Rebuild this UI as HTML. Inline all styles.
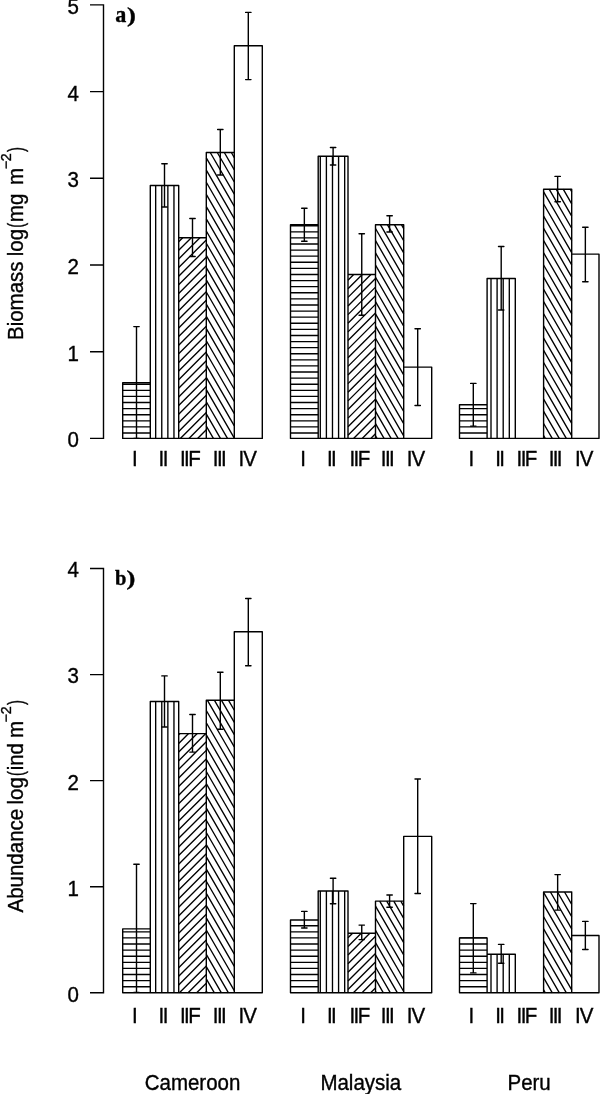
<!DOCTYPE html><html><head><meta charset="utf-8"><style>
html,body{margin:0;padding:0;background:#fff;width:600px;height:1094px;overflow:hidden}
svg{display:block;will-change:transform;filter:blur(0.3px)}
text{font-family:"Liberation Sans",sans-serif;fill:#000;stroke:#000;stroke-width:0.35px}
.lab{font-family:"Liberation Serif",serif;font-weight:bold}
</style></head><body>
<svg width="600" height="1094" viewBox="0 0 600 1094">
<rect width="600" height="1094" fill="#fff"/>
<path d="M103.5 4.2V439.1M90 438.4H103.5M90 351.7H103.5M90 265H103.5M90 178.3H103.5M90 91.6H103.5M90 4.9H103.5" stroke="#000" stroke-width="1.4" fill="none"/>
<g opacity="0.999">
<text transform="translate(79.0 447.3) scale(1 1.04)" font-size="20.5" text-anchor="end">0</text>
<text transform="translate(79.0 360.6) scale(1 1.04)" font-size="20.5" text-anchor="end">1</text>
<text transform="translate(79.0 273.9) scale(1 1.04)" font-size="20.5" text-anchor="end">2</text>
<text transform="translate(79.0 187.2) scale(1 1.04)" font-size="20.5" text-anchor="end">3</text>
<text transform="translate(79.0 100.5) scale(1 1.04)" font-size="20.5" text-anchor="end">4</text>
<text transform="translate(79.0 14.4) scale(1 1.04)" font-size="20.5" text-anchor="end">5</text>
</g>
<path d="M122.7 433L150.3 433M122.7 426.91L150.3 426.91M122.7 420.81L150.3 420.81M122.7 414.71L150.3 414.71M122.7 408.62L150.3 408.62M122.7 402.52L150.3 402.52M122.7 396.42L150.3 396.42M122.7 390.32L150.3 390.32M122.7 384.23L150.3 384.23M155.67 185.5L155.67 438.4M161.77 185.5L161.77 438.4M167.86 185.5L167.86 438.4M173.96 185.5L173.96 438.4M178.7 241.71L182.71 237.7M178.7 250.33L191.33 237.7M178.7 258.95L199.95 237.7M178.7 267.58L206.3 239.98M178.7 276.2L206.3 248.6M178.7 284.82L206.3 257.22M178.7 293.44L206.3 265.84M178.7 302.07L206.3 274.47M178.7 310.69L206.3 283.09M178.7 319.31L206.3 291.71M178.7 327.93L206.3 300.33M178.7 336.56L206.3 308.96M178.7 345.18L206.3 317.58M178.7 353.8L206.3 326.2M178.7 362.42L206.3 334.82M178.7 371.04L206.3 343.44M178.7 379.67L206.3 352.07M178.7 388.29L206.3 360.69M178.7 396.91L206.3 369.31M178.7 405.53L206.3 377.93M178.7 414.16L206.3 386.56M178.7 422.78L206.3 395.18M178.7 431.4L206.3 403.8M180.32 438.4L206.3 412.42M188.95 438.4L206.3 421.05M197.57 438.4L206.3 429.67M206.19 438.4L206.3 438.29M206.34 438.4L206.3 438.33M213.38 438.4L206.3 426.14M220.42 438.4L206.3 413.94M227.46 438.4L206.3 401.75M234.3 438.05L206.3 389.56M234.3 425.86L206.3 377.36M234.3 413.67L206.3 365.17M234.3 401.47L206.3 352.97M234.3 389.28L206.3 340.78M234.3 377.08L206.3 328.59M234.3 364.89L206.3 316.39M234.3 352.7L206.3 304.2M234.3 340.5L206.3 292M234.3 328.31L206.3 279.81M234.3 316.11L206.3 267.62M234.3 303.92L206.3 255.42M234.3 291.73L206.3 243.23M234.3 279.53L206.3 231.03M234.3 267.34L206.3 218.84M234.3 255.14L206.3 206.65M234.3 242.95L206.3 194.45M234.3 230.76L206.3 182.26M234.3 218.56L206.3 170.06M234.3 206.37L206.3 157.87M234.3 194.17L210.24 152.5M234.3 181.98L217.28 152.5M234.3 169.79L224.32 152.5M234.3 157.59L231.36 152.5M290.5 433L318.2 433M290.5 426.91L318.2 426.91M290.5 420.81L318.2 420.81M290.5 414.71L318.2 414.71M290.5 408.62L318.2 408.62M290.5 402.52L318.2 402.52M290.5 396.42L318.2 396.42M290.5 390.32L318.2 390.32M290.5 384.23L318.2 384.23M290.5 378.13L318.2 378.13M290.5 372.03L318.2 372.03M290.5 365.94L318.2 365.94M290.5 359.84L318.2 359.84M290.5 353.74L318.2 353.74M290.5 347.64L318.2 347.64M290.5 341.55L318.2 341.55M290.5 335.45L318.2 335.45M290.5 329.35L318.2 329.35M290.5 323.26L318.2 323.26M290.5 317.16L318.2 317.16M290.5 311.06L318.2 311.06M290.5 304.97L318.2 304.97M290.5 298.87L318.2 298.87M290.5 292.77L318.2 292.77M290.5 286.68L318.2 286.68M290.5 280.58L318.2 280.58M290.5 274.48L318.2 274.48M290.5 268.38L318.2 268.38M290.5 262.29L318.2 262.29M290.5 256.19L318.2 256.19M290.5 250.09L318.2 250.09M290.5 244L318.2 244M290.5 237.9L318.2 237.9M290.5 231.8L318.2 231.8M290.5 225.71L318.2 225.71M320.29 156.2L320.29 438.4M326.39 156.2L326.39 438.4M332.48 156.2L332.48 438.4M338.58 156.2L338.58 438.4M344.68 156.2L344.68 438.4M348 280.15L353.65 274.5M348 288.77L362.27 274.5M348 297.39L370.89 274.5M348 306.01L375.5 278.51M348 314.64L375.5 287.14M348 323.26L375.5 295.76M348 331.88L375.5 304.38M348 340.5L375.5 313M348 349.13L375.5 321.63M348 357.75L375.5 330.25M348 366.37L375.5 338.87M348 374.99L375.5 347.49M348 383.62L375.5 356.12M348 392.24L375.5 364.74M348 400.86L375.5 373.36M348 409.48L375.5 381.98M348 418.11L375.5 390.61M348 426.73L375.5 399.23M348 435.35L375.5 407.85M353.57 438.4L375.5 416.47M362.2 438.4L375.5 425.1M370.82 438.4L375.5 433.72M377 438.4L375.5 435.79M384.04 438.4L375.5 423.6M391.08 438.4L375.5 411.41M398.12 438.4L375.5 399.21M403.7 435.86L375.5 387.02M403.7 423.67L375.5 374.82M403.7 411.47L375.5 362.63M403.7 399.28L375.5 350.44M403.7 387.09L375.5 338.24M403.7 374.89L375.5 326.05M403.7 362.7L375.5 313.85M403.7 350.5L375.5 301.66M403.7 338.31L375.5 289.47M403.7 326.12L375.5 277.27M403.7 313.92L375.5 265.08M403.7 301.73L375.5 252.88M403.7 289.53L375.5 240.69M403.7 277.34L375.5 228.5M403.7 265.15L380.35 224.7M403.7 252.95L387.39 224.7M403.7 240.76L394.43 224.7M403.7 228.56L401.47 224.7M459.5 433L487.1 433M459.5 426.91L487.1 426.91M459.5 420.81L487.1 420.81M459.5 414.71L487.1 414.71M459.5 408.62L487.1 408.62M491 278.5L491 438.4M497.1 278.5L497.1 438.4M503.2 278.5L503.2 438.4M509.3 278.5L509.3 438.4M545.17 438.4L543.6 435.68M552.21 438.4L543.6 423.49M559.25 438.4L543.6 411.29M566.29 438.4L543.6 399.1M571.7 435.58L543.6 386.91M571.7 423.38L543.6 374.71M571.7 411.19L543.6 362.52M571.7 398.99L543.6 350.32M571.7 386.8L543.6 338.13M571.7 374.61L543.6 325.94M571.7 362.41L543.6 313.74M571.7 350.22L543.6 301.55M571.7 338.02L543.6 289.35M571.7 325.83L543.6 277.16M571.7 313.64L543.6 264.97M571.7 301.44L543.6 252.77M571.7 289.25L543.6 240.58M571.7 277.05L543.6 228.38M571.7 264.86L543.6 216.19M571.7 252.67L543.6 204M571.7 240.47L543.6 191.8M571.7 228.28L549.14 189.2M571.7 216.08L556.18 189.2M571.7 203.89L563.22 189.2M571.7 191.7L570.26 189.2" stroke="#000" stroke-width="1.35" fill="none"/>
<path d="M122.7 438.4V382.7H150.3V438.4ZM150.3 438.4V185.5H178.7V438.4ZM178.7 438.4V237.7H206.3V438.4ZM206.3 438.4V152.5H234.3V438.4ZM234.3 438.4V45.7H262.3V438.4ZM290.5 438.4V224.8H318.2V438.4ZM318.2 438.4V156.2H348V438.4ZM348 438.4V274.5H375.5V438.4ZM375.5 438.4V224.7H403.7V438.4ZM403.7 438.4V367.1H431.7V438.4ZM459.5 438.4V404.7H487.1V438.4ZM487.1 438.4V278.5H515.3V438.4ZM515.3 438.4H543.6M543.6 438.4V189.2H571.7V438.4ZM571.7 438.4V254.1H599V438.4Z" stroke="#000" stroke-width="1.4" fill="none" stroke-linejoin="round" stroke-linecap="round"/>
<path d="M136.5 326.6V438.4M133.8 326.6H139.2M133.8 438.4H139.2M164.5 163.7V207M161.8 163.7H167.2M161.8 207H167.2M192.5 218.5V256.5M189.8 218.5H195.2M189.8 256.5H195.2M220.3 129.5V175M217.6 129.5H223M217.6 175H223M248.3 12.4V79.6M245.6 12.4H251M245.6 79.6H251M304.35 208.3V241.2M301.65 208.3H307.05M301.65 241.2H307.05M333.1 147.5V165M330.4 147.5H335.8M330.4 165H335.8M361.75 233.7V315.3M359.05 233.7H364.45M359.05 315.3H364.45M389.6 215.7V232M386.9 215.7H392.3M386.9 232H392.3M417.7 328.8V405.5M415 328.8H420.4M415 405.5H420.4M473.3 383.4V426.1M470.6 383.4H476M470.6 426.1H476M501.2 246.5V310M498.5 246.5H503.9M498.5 310H503.9M557.65 176.4V201.7M554.95 176.4H560.35M554.95 201.7H560.35M585.35 227.2V281.8M582.65 227.2H588.05M582.65 281.8H588.05" stroke="#000" stroke-width="1.4" fill="none" stroke-linecap="round"/>
<g opacity="0.999">
<text transform="translate(134.75 466.1) scale(1 1.04)" font-size="20.5" text-anchor="middle" letter-spacing="0">I</text>
<text transform="translate(162.68 466.1) scale(1 1.04)" font-size="20.5" text-anchor="middle" letter-spacing="-1.6">II</text>
<text transform="translate(189.56 466.1) scale(1 1.04)" font-size="20.5" text-anchor="middle" letter-spacing="-1.6">IIF</text>
<text transform="translate(218.98 466.1) scale(1 1.04)" font-size="20.5" text-anchor="middle" letter-spacing="-1.6">III</text>
<text transform="translate(247.2 466.1) scale(1 1.04)" font-size="20.5" text-anchor="middle" letter-spacing="-1.0">IV</text>
<text transform="translate(303.05 466.1) scale(1 1.04)" font-size="20.5" text-anchor="middle" letter-spacing="0">I</text>
<text transform="translate(330.98 466.1) scale(1 1.04)" font-size="20.5" text-anchor="middle" letter-spacing="-1.6">II</text>
<text transform="translate(359.06 466.1) scale(1 1.04)" font-size="20.5" text-anchor="middle" letter-spacing="-1.6">IIF</text>
<text transform="translate(386.98 466.1) scale(1 1.04)" font-size="20.5" text-anchor="middle" letter-spacing="-1.6">III</text>
<text transform="translate(415.5 466.1) scale(1 1.04)" font-size="20.5" text-anchor="middle" letter-spacing="-1.0">IV</text>
<text transform="translate(471.34 466.1) scale(1 1.04)" font-size="20.5" text-anchor="middle" letter-spacing="0">I</text>
<text transform="translate(499.27 466.1) scale(1 1.04)" font-size="20.5" text-anchor="middle" letter-spacing="-1.6">II</text>
<text transform="translate(526.15 466.1) scale(1 1.04)" font-size="20.5" text-anchor="middle" letter-spacing="-1.6">IIF</text>
<text transform="translate(554.77 466.1) scale(1 1.04)" font-size="20.5" text-anchor="middle" letter-spacing="-1.6">III</text>
<text transform="translate(583.8 466.1) scale(1 1.04)" font-size="20.5" text-anchor="middle" letter-spacing="-1.0">IV</text>
<text class="lab" transform="translate(115.3 22.0) scale(1.08 1.15)" font-size="20.5">a</text>
<text class="lab" transform="translate(126.89999999999999 22.3) scale(1.3 1)" font-size="20.5">)</text>
<text transform="translate(23 340) rotate(-90) scale(1 1.04)" font-size="20.5">Biomass</text>
<text transform="translate(23 256.3) rotate(-90) scale(1 1.04)" font-size="20.5">log</text>
<text transform="translate(23 228.95) rotate(-90) translate(3.99 0) scale(0.72 1.04) translate(-3.99 0)" font-size="20.5">(</text>
<text transform="translate(23 222.13) rotate(-90) scale(1 1.04)" font-size="20.5">mg</text>
<text transform="translate(23 184.9) rotate(-90) scale(1 1.04)" font-size="20.5">m</text>
<text transform="translate(11.45 169) rotate(-90) scale(1 1.04)" font-size="14.35">−</text>
<text transform="translate(10.7 161.2) rotate(-90) scale(1 1.04)" font-size="14.35">2</text>
<text transform="translate(22.8 152) rotate(-90) scale(0.72 1.04)" font-size="20.5">)</text>
</g>
<path d="M103.5 567.82V993.5M90 992.8H103.5M90 886.73H103.5M90 780.66H103.5M90 674.59H103.5M90 568.52H103.5" stroke="#000" stroke-width="1.4" fill="none"/>
<g opacity="0.999">
<text transform="translate(79.0 1001.7) scale(1 1.04)" font-size="20.5" text-anchor="end">0</text>
<text transform="translate(79.0 895.63) scale(1 1.04)" font-size="20.5" text-anchor="end">1</text>
<text transform="translate(79.0 789.56) scale(1 1.04)" font-size="20.5" text-anchor="end">2</text>
<text transform="translate(79.0 683.49) scale(1 1.04)" font-size="20.5" text-anchor="end">3</text>
<text transform="translate(79.0 577.42) scale(1 1.04)" font-size="20.5" text-anchor="end">4</text>
</g>
<path d="M122.7 986.7L150.3 986.7M122.7 980.61L150.3 980.61M122.7 974.51L150.3 974.51M122.7 968.41L150.3 968.41M122.7 962.31L150.3 962.31M122.7 956.22L150.3 956.22M122.7 950.12L150.3 950.12M122.7 944.02L150.3 944.02M122.7 937.93L150.3 937.93M122.7 931.83L150.3 931.83M155.67 701.5L155.67 992.8M161.77 701.5L161.77 992.8M167.86 701.5L167.86 992.8M173.96 701.5L173.96 992.8M178.7 734.85L179.95 733.6M178.7 743.47L188.57 733.6M178.7 752.1L197.2 733.6M178.7 760.72L205.82 733.6M178.7 769.34L206.3 741.74M178.7 777.96L206.3 750.36M178.7 786.59L206.3 758.99M178.7 795.21L206.3 767.61M178.7 803.83L206.3 776.23M178.7 812.45L206.3 784.85M178.7 821.08L206.3 793.48M178.7 829.7L206.3 802.1M178.7 838.32L206.3 810.72M178.7 846.94L206.3 819.34M178.7 855.57L206.3 827.97M178.7 864.19L206.3 836.59M178.7 872.81L206.3 845.21M178.7 881.43L206.3 853.83M178.7 890.06L206.3 862.46M178.7 898.68L206.3 871.08M178.7 907.3L206.3 879.7M178.7 915.92L206.3 888.32M178.7 924.54L206.3 896.94M178.7 933.17L206.3 905.57M178.7 941.79L206.3 914.19M178.7 950.41L206.3 922.81M178.7 959.03L206.3 931.43M178.7 967.66L206.3 940.06M178.7 976.28L206.3 948.68M178.7 984.9L206.3 957.3M179.42 992.8L206.3 965.92M188.05 992.8L206.3 974.55M196.67 992.8L206.3 983.17M205.29 992.8L206.3 991.79M207.34 992.8L206.3 990.99M214.38 992.8L206.3 978.8M221.42 992.8L206.3 966.6M228.46 992.8L206.3 954.41M234.3 990.71L206.3 942.22M234.3 978.52L206.3 930.02M234.3 966.33L206.3 917.83M234.3 954.13L206.3 905.63M234.3 941.94L206.3 893.44M234.3 929.74L206.3 881.25M234.3 917.55L206.3 869.05M234.3 905.36L206.3 856.86M234.3 893.16L206.3 844.66M234.3 880.97L206.3 832.47M234.3 868.77L206.3 820.28M234.3 856.58L206.3 808.08M234.3 844.39L206.3 795.89M234.3 832.19L206.3 783.69M234.3 820L206.3 771.5M234.3 807.8L206.3 759.31M234.3 795.61L206.3 747.11M234.3 783.42L206.3 734.92M234.3 771.22L206.3 722.72M234.3 759.03L206.3 710.53M234.3 746.83L207.43 700.3M234.3 734.64L214.47 700.3M234.3 722.45L221.51 700.3M234.3 710.25L228.55 700.3M290.5 986.7L318.2 986.7M290.5 980.61L318.2 980.61M290.5 974.51L318.2 974.51M290.5 968.41L318.2 968.41M290.5 962.31L318.2 962.31M290.5 956.22L318.2 956.22M290.5 950.12L318.2 950.12M290.5 944.02L318.2 944.02M290.5 937.93L318.2 937.93M290.5 931.83L318.2 931.83M290.5 925.73L318.2 925.73M320.29 891L320.29 992.8M326.39 891L326.39 992.8M332.48 891L332.48 992.8M338.58 891L338.58 992.8M344.68 891L344.68 992.8M348 937.82L352.62 933.2M348 946.44L361.24 933.2M348 955.06L369.86 933.2M348 963.68L375.5 936.18M348 972.31L375.5 944.81M348 980.93L375.5 953.43M348 989.55L375.5 962.05M353.37 992.8L375.5 970.67M362 992.8L375.5 979.3M370.62 992.8L375.5 987.92M376.31 992.8L375.5 991.4M383.35 992.8L375.5 979.21M390.39 992.8L375.5 967.01M397.43 992.8L375.5 954.82M403.7 991.47L375.5 942.62M403.7 979.27L375.5 930.43M403.7 967.08L375.5 918.24M403.7 954.89L375.5 906.04M403.7 942.69L379.69 901.1M403.7 930.5L386.73 901.1M403.7 918.3L393.77 901.1M403.7 906.11L400.81 901.1M459.5 986.7L487.1 986.7M459.5 980.61L487.1 980.61M459.5 974.51L487.1 974.51M459.5 968.41L487.1 968.41M459.5 962.31L487.1 962.31M459.5 956.22L487.1 956.22M459.5 950.12L487.1 950.12M459.5 944.02L487.1 944.02M459.5 937.93L487.1 937.93M491 954.3L491 992.8M497.1 954.3L497.1 992.8M503.2 954.3L503.2 992.8M509.3 954.3L509.3 992.8M545.27 992.8L543.6 989.9M552.31 992.8L543.6 977.71M559.35 992.8L543.6 965.51M566.39 992.8L543.6 953.32M571.7 989.8L543.6 941.13M571.7 977.6L543.6 928.93M571.7 965.41L543.6 916.74M571.7 953.21L543.6 904.54M571.7 941.02L543.6 892.35M571.7 928.83L550.44 892M571.7 916.63L557.48 892M571.7 904.44L564.52 892M571.7 892.24L571.56 892" stroke="#000" stroke-width="1.35" fill="none"/>
<path d="M122.7 992.8V928.9H150.3V992.8ZM150.3 992.8V701.5H178.7V992.8ZM178.7 992.8V733.6H206.3V992.8ZM206.3 992.8V700.3H234.3V992.8ZM234.3 992.8V631.8H262.3V992.8ZM290.5 992.8V920H318.2V992.8ZM318.2 992.8V891H348V992.8ZM348 992.8V933.2H375.5V992.8ZM375.5 992.8V901.1H403.7V992.8ZM403.7 992.8V836.4H431.7V992.8ZM459.5 992.8V937.9H487.1V992.8ZM487.1 992.8V954.3H515.3V992.8ZM515.3 992.8H543.6M543.6 992.8V892H571.7V992.8ZM571.7 992.8V935.5H599V992.8Z" stroke="#000" stroke-width="1.4" fill="none" stroke-linejoin="round" stroke-linecap="round"/>
<path d="M136.5 864.2V992.4M133.8 864.2H139.2M133.8 992.4H139.2M164.5 675.9V727M161.8 675.9H167.2M161.8 727H167.2M192.5 714.5V752.1M189.8 714.5H195.2M189.8 752.1H195.2M220.3 672.3V729.2M217.6 672.3H223M217.6 729.2H223M248.3 598.5V665.8M245.6 598.5H251M245.6 665.8H251M304.35 911.4V928M301.65 911.4H307.05M301.65 928H307.05M333.1 878.3V903.7M330.4 878.3H335.8M330.4 903.7H335.8M361.75 925.1V939.6M359.05 925.1H364.45M359.05 939.6H364.45M389.6 895V907.2M386.9 895H392.3M386.9 907.2H392.3M417.7 779V893.5M415 779H420.4M415 893.5H420.4M473.3 903.6V972.9M470.6 903.6H476M470.6 972.9H476M501.2 944.4V963.2M498.5 944.4H503.9M498.5 963.2H503.9M557.65 874.6V910.1M554.95 874.6H560.35M554.95 910.1H560.35M585.35 921.4V949.5M582.65 921.4H588.05M582.65 949.5H588.05" stroke="#000" stroke-width="1.4" fill="none" stroke-linecap="round"/>
<g opacity="0.999">
<text transform="translate(134.75 1022.8) scale(1 1.04)" font-size="20.5" text-anchor="middle" letter-spacing="0">I</text>
<text transform="translate(162.68 1022.8) scale(1 1.04)" font-size="20.5" text-anchor="middle" letter-spacing="-1.6">II</text>
<text transform="translate(189.56 1022.8) scale(1 1.04)" font-size="20.5" text-anchor="middle" letter-spacing="-1.6">IIF</text>
<text transform="translate(218.98 1022.8) scale(1 1.04)" font-size="20.5" text-anchor="middle" letter-spacing="-1.6">III</text>
<text transform="translate(247.2 1022.8) scale(1 1.04)" font-size="20.5" text-anchor="middle" letter-spacing="-1.0">IV</text>
<text transform="translate(303.05 1022.8) scale(1 1.04)" font-size="20.5" text-anchor="middle" letter-spacing="0">I</text>
<text transform="translate(330.98 1022.8) scale(1 1.04)" font-size="20.5" text-anchor="middle" letter-spacing="-1.6">II</text>
<text transform="translate(359.06 1022.8) scale(1 1.04)" font-size="20.5" text-anchor="middle" letter-spacing="-1.6">IIF</text>
<text transform="translate(386.98 1022.8) scale(1 1.04)" font-size="20.5" text-anchor="middle" letter-spacing="-1.6">III</text>
<text transform="translate(415.5 1022.8) scale(1 1.04)" font-size="20.5" text-anchor="middle" letter-spacing="-1.0">IV</text>
<text transform="translate(471.34 1022.8) scale(1 1.04)" font-size="20.5" text-anchor="middle" letter-spacing="0">I</text>
<text transform="translate(499.27 1022.8) scale(1 1.04)" font-size="20.5" text-anchor="middle" letter-spacing="-1.6">II</text>
<text transform="translate(526.15 1022.8) scale(1 1.04)" font-size="20.5" text-anchor="middle" letter-spacing="-1.6">IIF</text>
<text transform="translate(554.77 1022.8) scale(1 1.04)" font-size="20.5" text-anchor="middle" letter-spacing="-1.6">III</text>
<text transform="translate(583.8 1022.8) scale(1 1.04)" font-size="20.5" text-anchor="middle" letter-spacing="-1.0">IV</text>
<text class="lab" x="115.0" y="585.0" font-size="20.5">b</text>
<text class="lab" transform="translate(126.6 585.3) scale(1.3 1)" font-size="20.5">)</text>
<text transform="translate(23 912.5) rotate(-90) scale(1 1.04)" font-size="20.5">Abundance</text>
<text transform="translate(23 804.5) rotate(-90) scale(1 1.04)" font-size="20.5">log</text>
<text transform="translate(23 777.15) rotate(-90) translate(3.99 0) scale(0.72 1.04) translate(-3.99 0)" font-size="20.5">(</text>
<text transform="translate(23 770.33) rotate(-90) scale(1 1.04)" font-size="20.5">ind</text>
<text transform="translate(23 737.9) rotate(-90) scale(1 1.04)" font-size="20.5">m</text>
<text transform="translate(11.45 722.2) rotate(-90) scale(1 1.04)" font-size="14.35">−</text>
<text transform="translate(10.7 714.2) rotate(-90) scale(1 1.04)" font-size="14.35">2</text>
<text transform="translate(22.8 704.9) rotate(-90) scale(0.72 1.04)" font-size="20.5">)</text>
</g>
<g opacity="0.999">
<text transform="translate(192.53 1090.3) scale(1 1.04)" font-size="20.5" text-anchor="middle">Cameroon</text>
<text transform="translate(360.83 1090.3) scale(1 1.04)" font-size="20.5" text-anchor="middle">Malaysia</text>
<text transform="translate(529.12 1090.3) scale(1 1.04)" font-size="20.5" text-anchor="middle">Peru</text>
</g>
</svg></body></html>
